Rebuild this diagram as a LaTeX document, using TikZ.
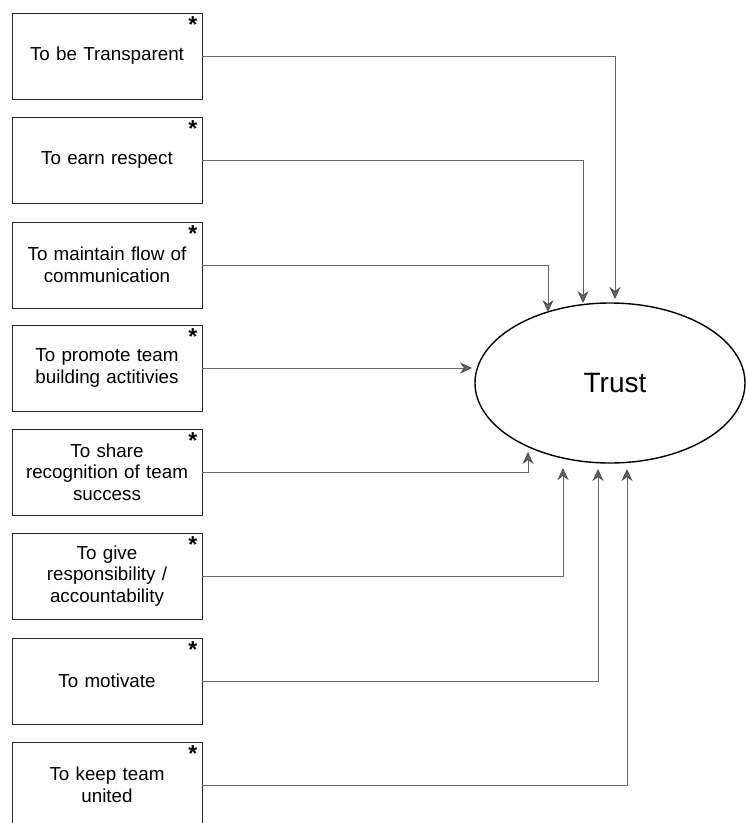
\documentclass[tikz,border=0pt]{standalone}
\usepackage{fontspec}
\setmainfont{Liberation Sans}
\usetikzlibrary{shapes.geometric,arrows.meta}
\begin{document}
\begin{tikzpicture}[x=1pt,y=-1pt,
  aim/.style={draw=black!85, line width=0.85pt, minimum width=190pt,
    minimum height=86pt, inner sep=2pt, align=center, text width=182pt,
    font=\fontsize{18.8}{21.6}\selectfont},
  astmark/.style={anchor=north east, inner sep=0pt,
    font=\fontsize{23}{23}\selectfont\bfseries},
  link/.style={draw=black!60, line width=0.9pt,
    -{Stealth[length=12pt,width=11pt,inset=4pt,color=black!70,fill=black!60]}},
]
\clip (0,0) rectangle (746,823);

% goal
\node[ellipse, draw=black, line width=1.4pt, minimum width=270pt,
  minimum height=160pt, inner sep=0pt,
  font=\fontsize{28}{28}\selectfont] (trust) at (610,383) {\hspace*{10pt}Trust};

% contributing factors
\node[aim] (b1) at (107,56)  {To be Transparent};
\node[aim] (b2) at (107,160) {To earn respect};
\node[aim] (b3) at (107,265) {To maintain flow of\\communication};
\node[aim] (b4) at (107,368) {To promote team\\building actitivies};
\node[aim] (b5) at (107,472) {To share\\recognition of team\\success};
\node[aim] (b6) at (107,576) {To give\\responsibility /\\accountability};
\node[aim] (b7) at (107,681) {To motivate};
\node[aim] (b8) at (107,785) {To keep team\\united};

\foreach \b in {b1,b2,b3,b4,b5,b6,b7,b8}
  \node[astmark] (\b s) at ([xshift=-5pt,yshift=-4pt]\b.north east) {*};

% arrow tips around the ellipse
\coordinate (t1) at (615,299);
\coordinate (t2) at (583,303);
\coordinate (t3) at (548,312);
\coordinate (t4) at (472,368);
\coordinate (t5) at (528,452);
\coordinate (t6) at (563,468);
\coordinate (t7) at (598,469);
\coordinate (t8) at (627,469);

\draw[link] (b1.east) -| (t1);
\draw[link] (b2.east) -| (t2);
\draw[link] (b3.east) -| (t3);
\draw[link] (b4.east) -- (t4);
\draw[link] (b5.east) -| (t5);
\draw[link] (b6.east) -| (t6);
\draw[link] (b7.east) -| (t7);
\draw[link] (b8.east) -| (t8);
\end{tikzpicture}
\end{document}
